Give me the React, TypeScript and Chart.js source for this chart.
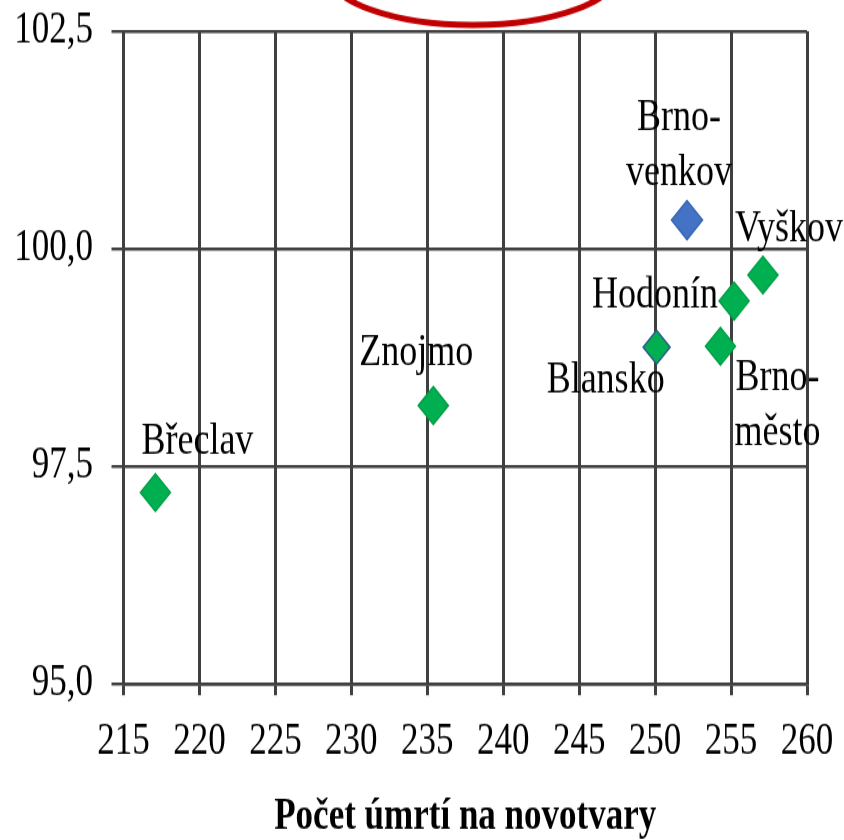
import React, { useEffect, useRef } from "react";
import { Chart, registerables } from "chart.js";

Chart.register(...registerables);

// ---- data ----
const regions = ["Břeclav", "Znojmo", "Brno-venkov", "Vyškov", "Hodonín", "Brno-město", "Blansko"];
const labelLines = [["Břeclav"], ["Znojmo"], ["Brno-", "venkov"], ["Vyškov"], ["Hodonín"], ["Brno-", "město"], ["Blansko"]];
const deaths = [217.1, 235.4, 252.1, 257.1, 255.2, 254.3, 250.1];
const indexValues = [97.2, 98.2, 100.33, 99.7, 99.4, 98.88, 98.87];
const xTitle = "Počet úmrtí na novotvary";

// ---- styles ----
const fillColors = ["#00B050", "#00B050", "#4472C4", "#00B050", "#00B050", "#00B050", "#00B050"];
const borderColors = ["#00A046", "#00A046", "#3A66B4", "#00A046", "#00A046", "#00A046", "#2E5A8C"];
const radii = [15, 15, 15.5, 15, 15, 15, 13.5];
// label offsets (internal canvas px) relative to each point
const labelDx = [42, -17, -8, 26, -79, 57, -51];
const labelDy = [-40, -42, -60, -36, -4, 47, 27];

const W = 844;
const H_INTERNAL = 672;
const H_CSS = 840;
const GRID = "#404040";

const labelPlugin = {
  id: "pointLabels",
  afterDatasetsDraw(chart: any) {
    const ctx = chart.ctx;
    const meta = chart.getDatasetMeta(0);
    ctx.save();
    ctx.fillStyle = "#000";
    ctx.font = "36px 'Liberation Serif', 'Times New Roman', serif";
    ctx.textAlign = "center";
    ctx.textBaseline = "middle";
    const lh = 44;
    meta.data.forEach((el: any, i: number) => {
      const lines = labelLines[i];
      const cx = el.x + labelDx[i];
      const cy = el.y + labelDy[i];
      const start = cy - ((lines.length - 1) * lh) / 2;
      lines.forEach((t: string, j: number) => ctx.fillText(t, cx, start + j * lh));
    });
    ctx.restore();
  },
  afterDraw(chart: any) {
    const ctx = chart.ctx;
    ctx.save();
    ctx.beginPath();
    ctx.ellipse(473, -22, 145, 42, 0, 0, Math.PI * 2);
    ctx.strokeStyle = "#C00000";
    ctx.lineWidth = 5;
    ctx.stroke();
    ctx.restore();
  },
};

export default function App() {
  const ref = useRef<HTMLCanvasElement | null>(null);
  useEffect(() => {
    document.body.style.margin = "0";
    if (!ref.current) return;
    const chart = new Chart(ref.current, {
      type: "scatter",
      data: {
        labels: regions,
        datasets: [
          {
            label: "Okresy",
            data: deaths.map((x, i) => ({ x, y: indexValues[i] })),
            pointStyle: "rectRot",
            pointRadius: radii,
            pointBackgroundColor: fillColors,
            pointBorderColor: borderColors,
            pointBorderWidth: 1.5,
          },
        ],
      },
      options: {
        responsive: false,
        animation: false,
        devicePixelRatio: 1,
        events: [],
        layout: { autoPadding: false, padding: { top: 25, right: 37, left: 0, bottom: 0 } },
        plugins: { legend: { display: false }, tooltip: { enabled: false } },
        scales: {
          x: {
            type: "linear",
            min: 215,
            max: 260,
            afterFit: (s: any) => {
              s.height = 124.8;
              s.paddingLeft = 0;
              s.paddingRight = 0;
            },
            ticks: {
              stepSize: 5,
              color: "#000",
              padding: 17,
              font: { family: "'Liberation Serif', 'Times New Roman', serif", size: 35 },
              callback: (v: any) => String(v),
            },
            grid: { color: GRID, lineWidth: 3, tickLength: 9 },
            border: { color: GRID, width: 2.4 },
            title: {
              display: true,
              text: xTitle,
              color: "#000",
              padding: { top: 0, bottom: 1 },
              font: { family: "'Liberation Serif', 'Times New Roman', serif", size: 35, weight: "bold", lineHeight: 1 },
            },
          },
          y: {
            type: "linear",
            min: 95,
            max: 102.5,
            afterFit: (s: any) => {
              s.width = 123.5;
              s.paddingTop = 0;
              s.paddingBottom = 0;
            },
            ticks: {
              stepSize: 2.5,
              color: "#000",
              padding: 18.5,
              font: { family: "'Liberation Serif', 'Times New Roman', serif", size: 35 },
              callback: (v: any) => Number(v).toFixed(1).replace(".", ","),
            },
            grid: { color: GRID, lineWidth: 2.4, tickLength: 12 },
            border: { color: GRID, width: 3 },
          },
        },
      },
      plugins: [labelPlugin],
    });
    return () => chart.destroy();
  }, []);
  return (
    <div style={{ position: "absolute", left: 0, top: 0, width: W, height: H_CSS, background: "#fff" }}>
      <canvas ref={ref} width={W} height={H_INTERNAL} style={{ width: W + "px", height: H_CSS + "px", display: "block" }} />
    </div>
  );
}
